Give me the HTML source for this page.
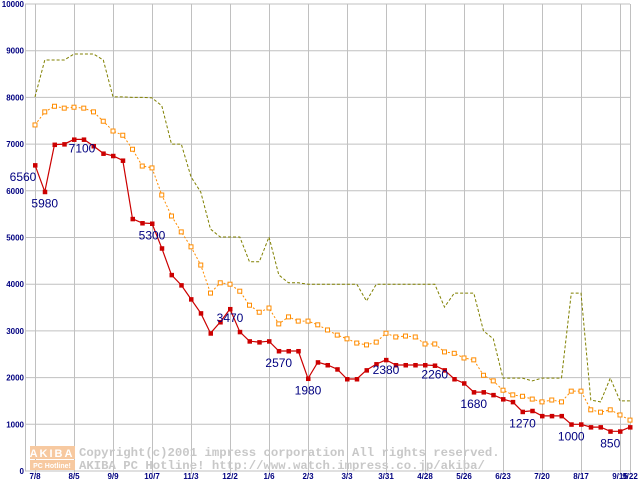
<!DOCTYPE html>
<html><head><meta charset="utf-8"><style>
body{margin:0;background:#fff;}
svg{display:block;}
text{font-family:"Liberation Sans",sans-serif;}
</style></head><body>
<svg id="chart" width="640" height="480" viewBox="0 0 640 480" xmlns="http://www.w3.org/2000/svg">
<g id="grid"></g>
<g id="ylabels"></g>
<g id="xlabels"></g>
<g>
<rect x="30" y="446" width="45" height="13" fill="#f7c9a0"/>
<text x="52" y="457" font-size="11" font-weight="bold" fill="#fff" text-anchor="middle" letter-spacing="2">AKIBA</text>
<rect x="30" y="460" width="45" height="10" fill="#f7c9a0"/>
<text x="52" y="468" font-size="7" font-weight="bold" fill="#fff" text-anchor="middle">PC Hotline!</text>
<text x="79" y="456" font-size="12.3" font-weight="bold" fill="#c8c8c8" style="font-family:'Liberation Mono',monospace">Copyright(c)2001 impress corporation All rights reserved.</text>
<text x="79" y="469" font-size="12.3" font-weight="bold" fill="#c8c8c8" style="font-family:'Liberation Mono',monospace">AKIBA PC Hotline!  http://www.watch.impress.co.jp/akiba/</text>
</g>
<g id="series"></g>
<g id="labels"></g>
</svg>
<script>
const xTickLabels = ["7/8","8/5","9/9","10/7","11/3","12/2","1/6","2/3","3/3","3/31","4/28","5/26","6/23","7/20","8/17","9/15","9/22"];
const xTickIndex = [0,4,8,12,16,20,24,28,32,36,40,44,48,52,56,60,61];
const yTicks = [0,1000,2000,3000,4000,5000,6000,7000,8000,9000,10000];
const minPrice = [6550,5980,6990,7000,7100,7100,6960,6800,6750,6650,5400,5310,5300,4770,4200,3980,3680,3380,2950,3190,3470,2980,2780,2760,2780,2570,2570,2570,1980,2330,2270,2180,1970,1970,2160,2290,2380,2270,2270,2270,2270,2260,2160,1970,1880,1690,1690,1630,1540,1480,1270,1290,1180,1180,1180,1000,1000,940,940,850,850,940];
const avgPrice = [7410,7690,7810,7770,7790,7770,7690,7490,7280,7190,6890,6530,6490,5910,5460,5120,4800,4410,3810,4030,4000,3850,3550,3400,3490,3150,3300,3210,3210,3130,3020,2910,2830,2740,2700,2760,2950,2870,2890,2870,2720,2720,2550,2520,2420,2380,2050,1930,1730,1630,1600,1540,1480,1520,1480,1710,1710,1310,1260,1310,1200,1090];
const maxPrice = [8010,8800,8800,8800,8930,8930,8930,8800,8010,8010,8000,8000,7990,7820,7000,7000,6300,5970,5180,5010,5010,5010,4480,4480,5010,4200,4030,4030,4000,4000,4000,4000,4000,4000,3640,4000,4000,4000,4000,4000,4000,4000,3510,3810,3810,3810,3000,2830,1990,1990,1990,1930,1990,1990,1990,3810,3810,1520,1480,1990,1500,1500];
const labelIndex = [0,1,4,12,20,25,28,36,41,45,50,55,59];
const labelText = ["6560","5980","7100","5300","3470","2570","1980","2380","2260","1680","1270","1000","850"];

const NS="http://www.w3.org/2000/svg";
function X(i){ return i<=60 ? 35+9.75*i : 620+10*(i-60); }
function Y(v){ return 471-0.0467*v; }
function mk(tag,attrs,parent){ const e=document.createElementNS(NS,tag); for(const k in attrs) e.setAttribute(k,attrs[k]); parent.appendChild(e); return e; }

const grid=document.getElementById('grid');
yTicks.forEach(v=>{
  const l=mk('line',{x1:25,x2:630,y1:Y(v),y2:Y(v),stroke:'#c0c0c0','stroke-width':1},grid);
  
  
  const t=mk('text',{x:24,y:Y(v)+3,'font-size':8,'font-weight':'bold',fill:'#000080','text-anchor':'end'},document.getElementById('ylabels'));
  t.textContent=v;
  
  
});
const va=mk('line',{x1:25.5,x2:25.5,y1:Y(10000),y2:Y(0),stroke:'#c0c0c0'},grid);


xTickIndex.forEach((idx,k)=>{
  const x=Math.round(X(idx))+0.5;
  const l=mk('line',{x1:x,x2:x,y1:Y(10000),y2:Y(0)+3,stroke:'#c0c0c0'},grid);
  
  
  const t=mk('text',{x:X(idx),y:479,'font-size':8,'font-weight':'bold',fill:'#000080','text-anchor':'middle'},document.getElementById('xlabels'));
  t.textContent=xTickLabels[k];
  
  
});

const ser=document.getElementById('series');
function pts(arr){ return arr.map((v,i)=>X(i).toFixed(1)+','+Y(v).toFixed(1)).join(' '); }
const pMax=mk('polyline',{points:pts(maxPrice),fill:'none',stroke:'#808000','stroke-width':1,'stroke-dasharray':'3,2'},ser);


const pAvg=mk('polyline',{points:pts(avgPrice),fill:'none',stroke:'#ff8c00','stroke-width':1,'stroke-dasharray':'2,2'},ser);


avgPrice.forEach((v,i)=>{
  const r=mk('rect',{x:X(i)-2,y:Y(v)-2,width:4,height:4,fill:'#fff',stroke:'#ff8c00','stroke-width':1},ser);
  
  
});
const pMin=mk('polyline',{points:pts(minPrice),fill:'none',stroke:'#cc0000','stroke-width':1.2},ser);


minPrice.forEach((v,i)=>{
  const r=mk('rect',{x:X(i)-2,y:Y(v)-2,width:4.5,height:4.5,fill:'#cc0000'},ser);
  
  
});
const lab=document.getElementById('labels');
labelIndex.forEach((idx,k)=>{
  let x=X(idx), y=Y(minPrice[idx])+16;
  if(k===0){ x=X(idx)-12; y=Y(minPrice[idx])+16; }
  if(k===2){ x=X(idx)+8; y=Y(minPrice[idx])+13; }
  if(k===4){ y=Y(minPrice[idx])+13; }
  if(k===7){ y=Y(minPrice[idx])+14; }
  if(k===8){ y=Y(minPrice[idx])+13; }
  const t=mk('text',{x:x,y:y,'font-size':12,fill:'#000080','text-anchor':'middle'},lab);
  t.textContent=labelText[k];
  
  
});
</script>
</body></html>
